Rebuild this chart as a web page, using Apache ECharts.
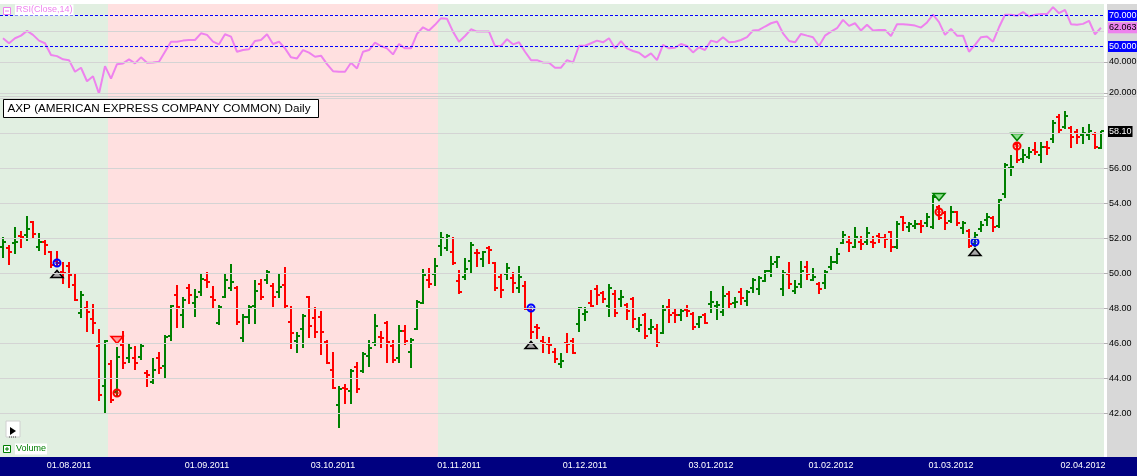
<!DOCTYPE html>
<html><head><meta charset="utf-8">
<script src="https://cdn.jsdelivr.net/npm/echarts@6/dist/echarts.min.js"></script>
<style>html,body{margin:0;padding:0;background:#fff;}#c{width:1137px;height:476px;}</style>
</head><body><div id="c"></div>
<script>
// ---- data ----
const opens = [51.52,51.43,51.71,52.13,52.19,52.9,51.52,51.77,51.2,50.7,
50.06,50.4,49.33,47.7,48.0,47.4,45.85,43.56,44.8,43.24,
45.9,45.14,45.14,45.24,44.32,43.81,45.14,44.7,46.42,48.76,
47.62,49.14,48.29,48.95,49.62,48.63,47.18,48.67,49.14,49.14,
46.29,47.52,48.13,49.39,49.62,49.28,48.91,49.33,47.2,46.15,
46.82,48.63,47.43,47.52,46.06,44.48,42.48,43.43,43.28,44.63,
44.42,45.28,46.04,46.38,47.14,45.85,45.14,46.7,45.49,46.82,
48.32,49.62,49.96,51.56,51.43,51.24,49.56,49.81,50.72,51.18,
50.8,51.47,50.57,49.81,49.96,49.71,49.18,49.28,47.96,46.91,
46.1,45.96,45.52,44.8,46.0,46.1,47.1,47.66,48.29,49.09,
48.86,48.13,48.8,48.51,48.19,48.51,46.8,47.62,46.82,46.82,
46.61,48.06,47.71,47.62,47.9,47.68,47.09,47.62,48.23,48.1,
47.77,48.8,48.3,48.91,48.44,49.14,49.09,49.56,50.15,50.67,
49.09,49.96,49.01,49.39,50.34,49.62,49.39,49.43,50.34,50.66,
51.75,51.8,51.52,51.77,51.8,51.8,52.13,52.03,52.34,51.52,
53.23,52.66,52.7,52.8,52.89,52.66,53.77,53.42,52.99,53.48,
52.6,52.43,51.67,52.51,53.04,53.14,52.7,54.53,55.99,57.38,
56.51,56.62,57.04,56.76,57.23,57.65,58.95,58.38,58.28,58.09,
57.9,57.9,57.96,57.14];
const highs = [52.0,51.58,52.57,52.38,53.2,52.95,52.25,51.85,51.24,51.2,
50.57,50.57,49.94,48.9,48.34,48.2,46.76,46.1,44.99,45.75,
46.67,45.96,45.8,45.88,44.42,45.09,45.43,46.42,48.13,49.28,
48.57,49.33,49.05,49.94,50.0,49.2,48.1,49.96,50.48,49.2,
47.62,48.1,49.56,49.62,50.13,49.39,49.96,50.29,48.06,46.57,
47.62,48.63,48.0,47.77,46.1,45.43,43.52,43.62,44.48,44.86,
45.43,46.1,47.62,46.67,47.2,46.13,46.99,46.99,46.23,48.42,
50.19,50.25,50.8,52.29,52.19,52.0,50.1,50.8,51.75,51.33,
51.24,51.52,50.61,49.9,50.51,50.04,50.38,49.52,47.96,47.05,
46.38,46.32,45.68,45.39,46.53,46.23,48.04,48.04,49.01,49.28,
48.95,49.33,49.01,48.99,48.23,48.57,47.43,47.66,47.33,47.05,
48.1,48.48,47.96,47.9,48.13,47.75,47.52,47.66,48.91,48.34,
49.2,48.91,48.61,49.09,49.01,49.66,49.77,50.13,50.91,50.95,
50.1,50.61,49.56,50.67,50.63,50.23,49.43,50.13,50.91,51.39,
52.38,52.05,52.6,52.05,52.57,52.09,52.22,52.19,52.34,52.91,
53.23,52.89,53.0,53.0,53.39,54.43,53.84,53.52,53.8,53.52,
52.95,52.47,52.32,52.95,53.39,53.23,54.19,56.24,56.7,57.42,
57.04,57.18,57.42,57.46,57.52,58.72,59.04,59.2,58.34,58.19,
58.28,58.47,58.0,58.09];
const lows = [50.95,50.51,51.14,51.52,51.9,52.0,51.33,51.09,50.38,50.4,
49.47,49.24,48.48,47.48,46.7,46.6,42.76,42.0,42.67,43.05,
44.57,44.95,44.53,45.09,43.58,43.71,44.32,44.09,46.19,46.95,
46.95,48.29,47.56,48.76,49.24,48.04,47.09,48.63,49.05,47.1,
46.1,47.18,47.18,48.55,49.43,48.15,48.67,48.09,45.75,45.52,
45.81,46.38,46.38,45.37,44.86,43.43,41.24,42.57,42.61,43.24,
44.38,44.72,45.9,45.81,44.9,44.95,44.95,45.94,44.63,46.8,
48.29,49.2,49.33,51.05,51.33,50.51,48.86,49.68,50.0,50.44,
50.42,50.61,49.05,48.67,49.66,48.95,48.95,47.94,46.32,46.32,
45.48,45.47,44.9,44.67,45.49,45.43,46.72,47.3,48.1,48.25,
48.38,47.56,47.56,48.1,47.37,46.9,46.72,46.29,46.57,45.85,
46.57,47.2,47.24,47.3,47.56,46.8,46.95,47.14,47.81,47.37,
47.62,48.0,48.06,48.23,48.17,48.9,48.8,49.56,49.87,50.38,
48.76,49.18,48.86,49.2,49.68,49.62,48.86,49.14,50.25,50.57,
51.71,51.29,51.48,51.37,51.65,51.48,51.8,51.48,51.29,51.42,
52.47,52.43,52.6,52.38,52.7,52.57,53.08,52.51,52.91,52.76,
52.28,51.52,51.58,52.43,52.76,52.43,52.66,54.38,55.61,56.38,
56.38,56.57,56.81,56.38,56.81,57.52,58.09,58.28,57.2,57.46,
57.42,57.65,57.14,57.14];
const closes = [51.77,51.24,51.77,52.08,52.51,52.23,51.77,51.62,50.45,50.6,
50.0,49.9,48.48,48.76,47.8,47.14,43.05,46.1,42.76,45.2,
44.86,45.71,44.86,45.85,44.19,44.48,44.61,46.38,48.1,48.06,
48.48,48.76,48.67,49.68,49.52,48.48,48.06,49.62,49.52,47.24,
47.52,48.06,48.99,48.67,50.09,48.67,49.2,48.15,46.57,46.42,
47.56,47.01,46.67,46.67,44.86,43.43,43.37,43.37,44.44,43.37,
45.39,45.75,46.99,46.32,46.06,45.05,46.7,46.1,46.19,48.38,
49.9,49.39,50.42,52.0,52.1,50.57,48.91,50.25,51.62,51.14,
51.2,51.3,49.14,49.05,50.29,49.43,49.81,47.96,46.63,46.86,
46.0,45.9,45.09,44.99,45.96,45.47,48.0,47.77,48.15,48.76,
48.53,49.14,47.75,48.67,47.85,47.39,47.05,46.42,46.9,46.0,
47.9,47.62,47.62,47.85,47.85,46.91,47.52,47.14,48.34,48.19,
48.72,48.25,48.36,48.61,48.95,49.62,49.71,50.13,50.53,50.91,
50.04,49.37,49.2,50.15,49.96,49.77,49.09,50.09,50.63,51.1,
52.19,51.75,52.05,51.67,52.28,51.75,51.99,51.94,51.52,52.81,
52.89,52.8,52.8,52.7,53.23,54.38,53.14,52.85,53.52,52.89,
52.89,51.58,52.19,52.76,53.23,52.66,54.19,56.19,56.09,56.47,
56.76,56.95,56.95,57.23,57.14,58.6,58.19,58.99,57.8,57.77,
58.0,58.15,57.23,58.10];
const rsi = [55.3,52.1,55.3,57.0,60.1,57.5,53.8,52.1,44.5,43.8,
41.7,41.2,33.7,36.3,27.6,30.8,19.6,37.3,29.3,38.6,
39.1,41.7,39.1,43.0,39.5,39.7,40.2,46.6,53.1,53.1,
53.8,54.2,54.2,58.5,57.5,53.1,51.4,57.9,56.4,46.6,
47.7,48.2,53.6,54.2,57.9,51.6,53.1,48.8,43.0,42.3,
47.7,46.0,43.4,44.1,38.6,34.1,33.7,33.7,39.5,35.8,
46.6,47.7,52.5,50.3,48.8,44.9,51.6,48.8,48.8,58.1,
62.4,60.3,64.0,68.3,67.9,59.6,53.1,56.8,61.1,59.6,
59.6,59.6,50.3,50.3,54.7,51.4,52.7,46.6,41.2,41.2,
39.7,39.5,36.3,36.3,41.2,39.7,50.5,50.5,52.1,53.8,
52.7,55.3,48.8,53.4,48.8,47.1,46.0,43.0,45.6,41.2,
51.0,48.8,49.2,51.6,50.3,46.2,49.5,47.7,53.8,52.7,
56.0,52.7,53.1,54.2,56.0,60.3,60.7,62.9,65.0,66.1,
58.5,53.6,52.7,58.1,57.0,56.0,50.3,57.0,59.6,61.8,
67.2,63.3,65.0,60.3,64.0,60.3,60.7,60.7,56.8,64.4,
64.4,64.0,63.5,62.2,65.5,70.5,65.7,57.5,61.4,57.0,
57.0,46.6,51.0,56.0,56.4,53.1,62.4,70.5,70.5,69.8,
72.2,69.4,70.5,70.9,70.9,75.4,71.5,73.7,64.4,64.0,
64.6,66.6,57.9,62.063];
const holidays = ['05.09.2011','24.11.2011','26.12.2011','02.01.2012','16.01.2012','20.02.2012'];
const tickLabels = ['01.08.2011','01.09.2011','03.10.2011','01.11.2011','01.12.2011','03.01.2012','01.02.2012','01.03.2012','02.04.2012'];
const priceGridValues = [42,44,46,48,50,52,54,56,58,60];
const priceLabelValues = [42,44,46,48,50,52,54,56];
const rsiGridValues = [20,40,60];
const rsiLabelValues = [40,20];
const rsiLevels = [70,50];
const rsiLast = 62.063;
const lastClose = 58.10;
// background zones: [from bar, to bar, 0 = green, 1 = pink]
const zones = [[0,17,0],[18,72,1],[73,183,0]];
// signal markers [bar, price]
const blueRings = [[9,50.57],[88,48.0],[162,51.76]];
const redRings = [[19,43.18],[156,53.49],[169,57.26]];
const upTriangles = [[9,49.93],[88,45.89],[162,51.24]];
const downRedTriangles = [[19,46.2]];
const downGreenTriangles = [[156,54.38],[169,57.8]];

// ---- build trading-day categories ----
function fmt(d){const dd=String(d.getUTCDate()).padStart(2,'0');const mm=String(d.getUTCMonth()+1).padStart(2,'0');return dd+'.'+mm+'.'+d.getUTCFullYear();}
const dates=[];
(function(){let t=Date.UTC(2011,6,15);const end=Date.UTC(2012,3,5);
 while(t<=end){const d=new Date(t);const wd=d.getUTCDay();const s=fmt(d);
  if(wd!==0&&wd!==6&&holidays.indexOf(s)<0)dates.push(s);t+=86400000;}})();

const GREEN='#008000', RED='#ff0000';
const BG=['#e1efe1','#ffe0e0'];
const FONT='"Liberation Sans", Arial, sans-serif';

const ohlc = dates.map((d,i)=>[i,opens[i],highs[i],lows[i],closes[i]]);
const markers = [].concat(
  blueRings.map(d=>[d[0],d[1],0]),
  redRings.map(d=>[d[0],d[1],1]),
  upTriangles.map(d=>[d[0],d[1],2]),
  downRedTriangles.map(d=>[d[0],d[1],3]),
  downGreenTriangles.map(d=>[d[0],d[1],4]));

function renderZone(params, api){
  const cs=params.coordSys;
  const bw=api.size([1,0])[0];
  const a=api.coord([api.value(0),0])[0]-bw/2;
  const b=api.coord([api.value(1),0])[0]+bw/2;
  return {type:'rect',shape:{x:Math.round(a),y:cs.y,width:Math.round(b)-Math.round(a),height:cs.height},
    style:{fill:BG[api.value(2)]}};
}
function renderOHLC(params, api){
  const i=api.value(0);
  const o=api.coord([i,api.value(1)]), h=api.coord([i,api.value(2)]),
        l=api.coord([i,api.value(3)]), c=api.coord([i,api.value(4)]);
  const x=Math.round(o[0]);
  const col=api.value(4)>=api.value(1)?GREEN:RED;
  const st={stroke:col,lineWidth:2};
  const yo=Math.round(o[1]), yc=Math.round(c[1]);
  return {type:'group',children:[
    {type:'line',shape:{x1:x,y1:Math.round(h[1])-1,x2:x,y2:Math.round(l[1])+1},style:st},
    {type:'line',shape:{x1:x-3,y1:yo,x2:x,y2:yo},style:st},
    {type:'line',shape:{x1:x,y1:yc,x2:x+3,y2:yc},style:st}
  ]};
}
function renderMarker(params, api){
  const p=api.coord([api.value(0),api.value(1)]);
  const k=api.value(2);
  const x=Math.round(p[0]), y=Math.round(p[1]);
  if(k===0||k===1){
    const col=k===0?'#0000ff':'#ff0000';
    return {type:'group',children:[
      {type:'circle',shape:{cx:x,cy:y,r:3.5},style:{fill:'none',stroke:col,lineWidth:2}},
      {type:'line',shape:{x1:x-2,y1:y,x2:x+2,y2:y},style:{stroke:col,lineWidth:1}},
      {type:'line',shape:{x1:x,y1:y-2,x2:x,y2:y+2},style:{stroke:col,lineWidth:1}}
    ]};
  }
  if(k===2){
    return {type:'polygon',shape:{points:[[x-6,y+3.5],[x+6,y+3.5],[x,y-3.5]]},
      style:{fill:'#a8a8a8',stroke:'#000',lineWidth:1.5}};
  }
  const fill=k===3?'#ff9a9a':'#8fe08f', stroke=k===3?'#ff0000':'#008000';
  return {type:'polygon',shape:{points:[[x-6,y-3.5],[x+6,y-3.5],[x,y+3.5]]},
    style:{fill:fill,stroke:stroke,lineWidth:1.5}};
}

const gridLine={color:'#d4d4d4',width:1,type:'solid',opacity:1};
const lblBase={show:true,position:'end',distance:4,fontFamily:FONT,fontSize:9,color:'#000',padding:[1,1,1,1]};

const rsiMarks=[]
  .concat(rsiGridValues.map(v=>({yAxis:v,lineStyle:gridLine,
     label:Object.assign({},lblBase,{show:rsiLabelValues.indexOf(v)>=0,formatter:v.toFixed(3)})})))
  .concat(rsiLevels.map(v=>({yAxis:v,lineStyle:{color:'#0000ff',width:1,type:[3,2],opacity:1},
     label:Object.assign({},lblBase,{formatter:v.toFixed(3),color:'#fff',backgroundColor:'#0000ff'})})))
  .concat([{yAxis:rsiLast,lineStyle:{color:'rgba(0,0,0,0)',width:0},
     label:Object.assign({},lblBase,{formatter:rsiLast.toFixed(3),color:'#000',backgroundColor:'#ee82ee'})}]);

const priceMarks=priceGridValues.map(v=>({yAxis:v,lineStyle:gridLine,
     label:Object.assign({},lblBase,{show:priceLabelValues.indexOf(v)>=0,formatter:v.toFixed(2)})}))
  .concat([{yAxis:lastClose,lineStyle:{color:'rgba(0,0,0,0)',width:0},
     label:Object.assign({},lblBase,{formatter:lastClose.toFixed(2),color:'#fff',backgroundColor:'#000'})}]);

const tickStyle={show:true,inside:false,length:4,lineStyle:{color:'#b0b0b0',width:1}};

const chart=echarts.init(document.getElementById('c'),null,{renderer:'canvas'});
chart.setOption({
  animation:false,
  backgroundColor:'#fff',
  grid:[
    {left:0,top:4,right:33,height:92},
    {left:0,top:97,right:33,height:360}
  ],
  xAxis:[
    {type:'category',gridIndex:0,data:dates,boundaryGap:true,show:false},
    {type:'category',gridIndex:1,data:dates,boundaryGap:true,
     axisLine:{show:false},axisTick:{show:false},splitLine:{show:false},
     axisLabel:{interval:function(i,v){return tickLabels.indexOf(v)>=0;},color:'#fff',
       fontFamily:FONT,fontSize:9,margin:4}}
  ],
  yAxis:[
    {type:'value',gridIndex:0,min:18.065,max:77.419,position:'right',
     axisLine:{show:false},axisLabel:{show:false},splitLine:{show:false},
     axisTick:Object.assign({customValues:rsiLabelValues},tickStyle)},
    {type:'value',gridIndex:1,min:39.5,max:60.07,position:'right',
     axisLine:{show:false},axisLabel:{show:false},splitLine:{show:false},
     axisTick:Object.assign({customValues:priceLabelValues},tickStyle)}
  ],
  series:[
    {type:'custom',xAxisIndex:0,yAxisIndex:0,z:1,silent:true,data:zones,renderItem:renderZone,encode:{x:[0,1]}},
    {type:'custom',xAxisIndex:1,yAxisIndex:1,z:1,silent:true,data:zones,renderItem:renderZone,encode:{x:[0,1]}},
    {type:'line',xAxisIndex:0,yAxisIndex:0,z:3,data:rsi,symbol:'none',silent:true,
     lineStyle:{color:'#ee82ee',width:2},itemStyle:{color:'#ee82ee'},
     markLine:{silent:true,symbol:['none','none'],animation:false,data:rsiMarks}},
    {type:'line',xAxisIndex:1,yAxisIndex:1,z:2,data:closes,symbol:'none',silent:true,
     lineStyle:{opacity:0},itemStyle:{color:'#d4d4d4'},
     markLine:{silent:true,symbol:['none','none'],animation:false,data:priceMarks}},
    {type:'custom',xAxisIndex:1,yAxisIndex:1,z:3,silent:true,data:ohlc,renderItem:renderOHLC,encode:{x:0,y:[1,2,3,4]}},
    {type:'custom',xAxisIndex:1,yAxisIndex:1,z:4,silent:true,data:markers,renderItem:renderMarker,encode:{x:0,y:1}}
  ],
  graphic:[
    {type:'rect',z:-1,silent:true,shape:{x:1107,y:4,width:30,height:453},style:{fill:'#d8d8d8'}},
    {type:'rect',z:-1,silent:true,shape:{x:0,y:457,width:1137,height:19},style:{fill:'#000080'}},
    {type:'rect',z:-1,silent:true,shape:{x:0,y:96,width:1137,height:1},style:{fill:'#d0d0d0'}},
    // RSI legend
    {type:'rect',z:20,silent:true,shape:{x:3.5,y:7.5,width:7,height:7},style:{fill:'#fff',stroke:'#ee82ee',lineWidth:1}},
    {type:'line',z:21,silent:true,shape:{x1:5,y1:11,x2:9,y2:11},style:{stroke:'#ee82ee',lineWidth:1}},
    {type:'text',z:20,silent:true,x:15,y:10,style:{text:'RSI(Close,14)',fill:'#ee82ee',font:'9px '+FONT,
      verticalAlign:'middle',backgroundColor:'#fff',padding:[1,1,1,1]}},
    // title box
    {type:'rect',z:20,silent:true,shape:{x:3.5,y:99.5,width:315,height:18},style:{fill:'#fff',stroke:'#000',lineWidth:1}},
    {type:'text',z:21,silent:true,x:7.5,y:109,style:{text:'AXP (AMERICAN EXPRESS COMPANY COMMON) Daily',
      fill:'#000',font:'11.7px '+FONT,verticalAlign:'middle'}},
    // play button
    {type:'rect',z:20,silent:true,shape:{x:6,y:421,width:14,height:16},style:{fill:'#fff',stroke:'#d0d0d0',lineWidth:1}},
    {type:'polygon',z:21,silent:true,shape:{points:[[10,427],[10,435],[16,431]]},style:{fill:'#000'}},
    {type:'line',z:21,silent:true,shape:{x1:9,y1:437,x2:16,y2:437},style:{stroke:'#404040',lineWidth:1,lineDash:[1,1]}},
    // volume legend
    {type:'rect',z:20,silent:true,shape:{x:3.5,y:445.5,width:7,height:7},style:{fill:'#fff',stroke:'#008000',lineWidth:1}},
    {type:'line',z:21,silent:true,shape:{x1:5,y1:449,x2:9,y2:449},style:{stroke:'#008000',lineWidth:1}},
    {type:'line',z:21,silent:true,shape:{x1:7,y1:447,x2:7,y2:451},style:{stroke:'#008000',lineWidth:1}},
    {type:'text',z:20,silent:true,x:15,y:449,style:{text:'Volume',fill:'#008000',font:'9px '+FONT,
      verticalAlign:'middle',backgroundColor:'#fff',padding:[1,1,1,1]}}
  ]
});
</script></body></html>
